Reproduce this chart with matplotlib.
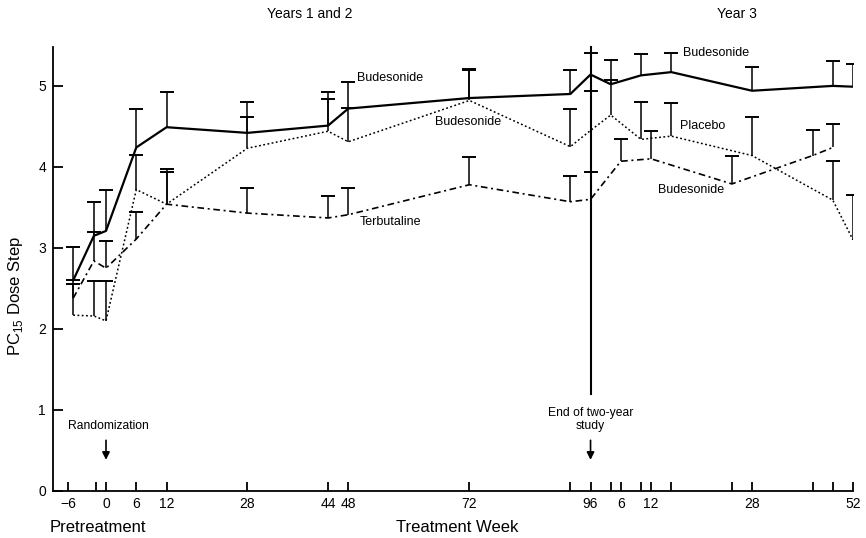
import numpy as np
import matplotlib
matplotlib.use("Agg")
import matplotlib.pyplot as plt

plt.rcParams['font.family'] = ['Liberation Sans', 'DejaVu Sans']
plt.rcParams['mathtext.fontset'] = 'custom'
plt.rcParams['mathtext.rm'] = 'Liberation Sans'

# Visit positions along the time axis (years 1-2 in weeks, year 3 appended after week 96)
tick_pos = [-7.5, -2, 0, 6, 12, 28, 44, 48, 72, 92, 96,
            100, 102, 106, 108, 112, 124, 128, 140, 144, 148]
tick_labels = ['\u22126', '', '0', '6', '12', '28', '44', '48', '72', '', '96',
               '', '6', '', '12', '', '', '28', '', '', '52']

# Budesonide throughout (solid)
bud_pos = [-6.5, -2.4, 0, 6, 12, 28, 44, 48, 72, 92, 96, 100, 106, 112, 128, 144, 148]
bud_mean = [2.60, 3.15, 3.21, 4.24, 4.49, 4.42, 4.51, 4.72, 4.85, 4.90, 5.14,
            5.02, 5.13, 5.17, 4.94, 5.00, 4.99]
bud_upper = [3.01, 3.57, 3.72, 4.71, 4.92, 4.80, 4.93, 5.05, 5.21, 5.19, 5.41,
             5.32, 5.39, 5.40, 5.23, 5.31, 5.27]

# Budesonide in years 1-2, placebo in year 3 (dotted)
plc_pos = [-6.5, -2.4, 0, 6, 12, 28, 44, 48, 72, 92, 96, 100, 106, 112, 128, 144, 148]
plc_mean = [2.17, 2.16, 2.10, 3.72, 3.54, 4.23, 4.44, 4.31, 4.82, 4.25, 4.45,
            4.64, 4.34, 4.38, 4.14, 3.59, 3.10]
plc_upper = [2.56, 2.59, 2.59, 4.15, 3.97, 4.61, 4.84, 4.73, 5.19, 4.71, 4.94,
             5.07, 4.80, 4.79, 4.62, 4.07, 3.65]

# Terbutaline in years 1-2, budesonide in year 3 (dash-dot)
terb_pos = [-6.5, -2.4, 0, 6, 12, 28, 44, 48, 72, 92, 96, 102, 108, 124, 140, 144]
terb_mean = [2.38, 2.84, 2.75, 3.11, 3.54, 3.43, 3.37, 3.41, 3.78, 3.57, 3.60,
             4.07, 4.10, 3.79, 4.14, 4.24]
terb_upper = [2.61, 3.20, 3.09, 3.44, 3.94, 3.74, 3.64, 3.74, 4.12, 3.89, 3.94,
              4.35, 4.44, 4.13, 4.46, 4.53]

fig = plt.figure(figsize=(8.66, 5.38), dpi=100)
ax = fig.add_axes([53 / 866, 1 - 491 / 538, 800 / 866, 444 / 538])
ax.set_xlim(-10.5, 148)
ax.set_ylim(0, 5.48)


def draw_series(pos, mean, upper, ls, lw):
    pos = np.asarray(pos, float)
    mean = np.asarray(mean, float)
    upper = np.asarray(upper, float)
    ax.plot(pos, mean, color='black', linestyle=ls, linewidth=lw, zorder=3)
    _, caps, _ = ax.errorbar(pos, mean, yerr=[np.zeros_like(mean), upper - mean],
                             fmt='none', ecolor='black', elinewidth=1.1,
                             capsize=4.8, capthick=1.4, zorder=2)
    for c in caps:
        if np.allclose(c.get_ydata(), mean):
            c.set_visible(False)


draw_series(bud_pos, bud_mean, bud_upper, '-', 1.6)
draw_series(plc_pos, plc_mean, plc_upper, (0, (1.2, 1.6)), 1.1)
draw_series(terb_pos, terb_mean, terb_upper, (0, (4, 2.2, 1.2, 2.2)), 1.2)

# End of two-year study marker
ax.plot([96, 96], [1.2, 5.48], color='black', linewidth=1.5, clip_on=False, zorder=4)

# Axes styling
for side in ('top', 'right'):
    ax.spines[side].set_visible(False)
ax.spines['left'].set_linewidth(1.3)
ax.spines['bottom'].set_linewidth(1.3)
ax.set_yticks(range(6))
ax.set_xticks(tick_pos)
ax.set_xticklabels(tick_labels)
ax.tick_params(axis='y', direction='in', length=7, width=1.3, labelsize=10, pad=5)
ax.tick_params(axis='x', direction='in', length=6.5, width=1.3, labelsize=10, pad=4)

ax.set_ylabel('PC$_{\\mathregular{15}}$ Dose Step', fontsize=12)
ax.yaxis.set_label_coords(-0.035, 0.44)

# Series labels
lab_kw = dict(fontsize=9, ha='center', va='center')
ax.text(56.2, 5.10, 'Budesonide', **lab_kw)
ax.text(71.7, 4.55, 'Budesonide', **lab_kw)
ax.text(56.3, 3.32, 'Terbutaline', **lab_kw)
ax.text(120.8, 5.40, 'Budesonide', **lab_kw)
ax.text(118.3, 4.51, 'Placebo', **lab_kw)
ax.text(116.0, 3.71, 'Budesonide', **lab_kw)

# Annotations with arrows
ax.text(0.5, 0.80, 'Randomization', fontsize=8.7, ha='center', va='center')
ax.annotate('', xy=(0, 0.35), xytext=(0, 0.66),
            arrowprops=dict(arrowstyle='-|>', color='black', lw=1.2, mutation_scale=11))
ax.text(96, 0.88, 'End of two-year\nstudy', fontsize=8.7, ha='center', va='center',
        linespacing=1.05)
ax.annotate('', xy=(96, 0.35), xytext=(96, 0.66),
            arrowprops=dict(arrowstyle='-|>', color='black', lw=1.2, mutation_scale=11))

# Period headings and axis captions
fig.text(310 / 866, 1 - 14 / 538, 'Years 1 and 2', fontsize=10, ha='center', va='center')
fig.text(737 / 866, 1 - 14 / 538, 'Year 3', fontsize=10, ha='center', va='center')
fig.text(98 / 866, 1 - 527 / 538, 'Pretreatment', fontsize=12, ha='center', va='center')
fig.text(457 / 866, 1 - 527 / 538, 'Treatment Week', fontsize=12, ha='center', va='center')

fig.savefig('out.png', dpi=100)
